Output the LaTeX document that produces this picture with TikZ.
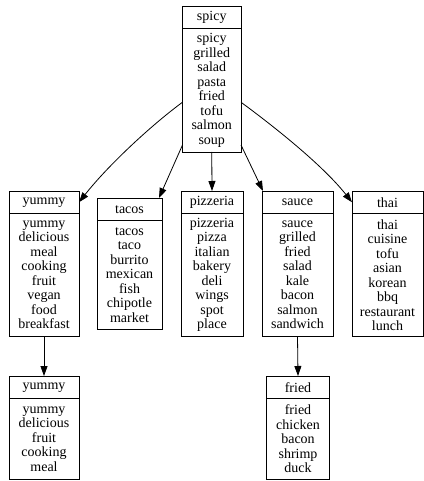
\documentclass[tikz,border=0pt]{standalone}
\usepackage{fontspec}
\setmainfont{Liberation Serif}
\usetikzlibrary{arrows.meta, positioning}

\begin{document}
\begin{tikzpicture}[
        x=1pt, y=1pt,
        font=\fontsize{14}{14.5}\selectfont,
        >={Triangle[length=10pt, width=7pt]},
        line width=0.8pt,
        head/.style={draw, anchor=north, outer sep=0pt, inner sep=0pt, minimum height=22.5pt, minimum width=#1},
        words/.style={draw, align=center, outer sep=0pt, inner sep=0pt, minimum width=#1}
    ]
        \useasboundingbox (0,0) rectangle (423,-481);

        %=================== top record ===================
        \node[head=58.5pt] (spicy) at (211.75,-6) {spicy};
        \node[words=58.5pt, minimum height=123.5pt, below=0pt of spicy] (spicyw)
            {spicy\\grilled\\salad\\pasta\\fried\\tofu\\salmon\\soup};

        %=================== second row ===================
        \node[head=70pt] (yummy) at (44,-191) {yummy};
        \node[words=70pt, minimum height=123pt, below=0pt of yummy] (yummyw)
            {yummy\\delicious\\meal\\cooking\\fruit\\vegan\\food\\breakfast};

        \node[head=65pt] (tacos) at (129.5,-198) {tacos};
        \node[words=65pt, minimum height=109pt, below=0pt of tacos] (tacosw)
            {tacos\\taco\\burrito\\mexican\\fish\\chipotle\\market};

        \node[head=62pt] (pizzeria) at (212,-191) {pizzeria};
        \node[words=62pt, minimum height=123pt, below=0pt of pizzeria] (pizzeriaw)
            {pizzeria\\pizza\\italian\\bakery\\deli\\wings\\spot\\place};

        \node[head=71pt] (sauce) at (297.5,-191) {sauce};
        \node[words=71pt, minimum height=123pt, below=0pt of sauce] (saucew)
            {sauce\\grilled\\fried\\salad\\kale\\bacon\\salmon\\sandwich};

        \node[head=71pt] (thai) at (387.5,-191) {thai};
        \node[words=71pt, minimum height=123pt, below=0pt of thai] (thaiw)
            {thai\\cuisine\\tofu\\asian\\korean\\bbq\\restaurant\\lunch};

        %=================== third row ===================
        \node[head=70pt] (yummyb) at (44,-376) {yummy};
        \node[words=70pt, minimum height=81pt, below=0pt of yummyb] (yummybw)
            {yummy\\delicious\\fruit\\cooking\\meal};

        \node[head=62.6pt] (fried) at (298,-376) {fried};
        \node[words=62.6pt, minimum height=81pt, below=0pt of fried] (friedw)
            {fried\\chicken\\bacon\\shrimp\\duck};

        %=================== edges ===================
        \draw[->] ([yshift=-12pt]spicyw.west) .. controls +(-30,-22) and +(30,38) .. (yummy.east);
        \draw[->] ([yshift=7pt]spicyw.south west) -- ([xshift=-3pt]tacos.north east);
        \draw[->] (spicyw.south) -- (pizzeria.north);
        \draw[->] ([yshift=7pt]spicyw.south east) -- ([xshift=1pt]sauce.north west);
        \draw[->] ([yshift=-12pt]spicyw.east) .. controls +(30,-22) and +(-30,38) .. (thai.west);
        \draw[->] (yummyw.south) -- (yummyb.north);
        \draw[->] (saucew.south) -- (fried.north);
    \end{tikzpicture}
\end{document}
